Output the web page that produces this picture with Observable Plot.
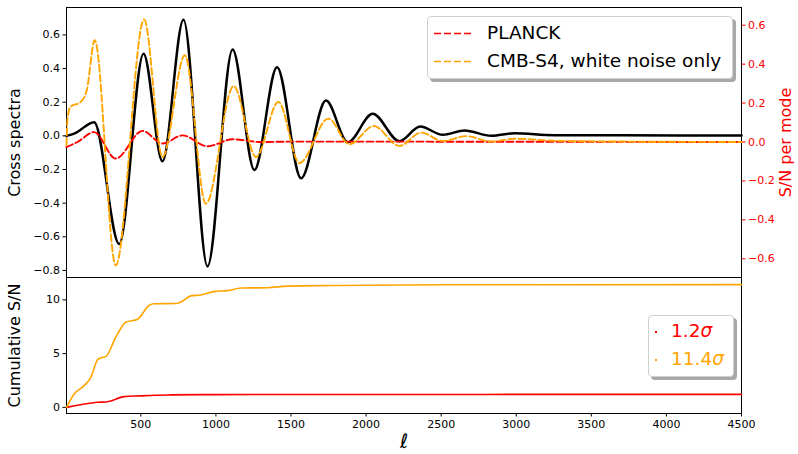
<!DOCTYPE html>
<html><head><meta charset="utf-8">
<script src="https://cdn.jsdelivr.net/npm/d3@7"></script>
<script src="https://cdn.jsdelivr.net/npm/@observablehq/plot@0.6"></script>
<style>
body{margin:0;background:#fff;font-family:"DejaVu Sans",sans-serif}
#chart{position:relative;width:798px;height:454px;background:#fff}
#chart svg{position:absolute;left:0;font-family:"DejaVu Sans",sans-serif;overflow:visible}
#chart svg g[aria-label="y-axis label"] text{font-size:16px}
#chart svg g[aria-label="x-axis label"] text{font-size:20px;font-style:italic}
.legend{position:absolute;background:#fff;border:1px solid #d0d0d0;border-radius:4px;box-shadow:3px 3px 0 #a8a8a8;box-sizing:border-box}
.row{position:absolute;white-space:nowrap}
</style></head><body><div id="chart"></div>
<script>
// ---- data ----
const ellCross = [5, 60, 189, 356, 518, 644, 784, 944, 1111, 1256, 1407, 1567, 1733, 1878, 2044, 2222, 2360, 2511, 2656, 2833, 2987, 3250, 3700, 4500];
const crossSpec = [0.0, 0.015, 0.081, -0.643, 0.488, -0.151, 0.69, -0.776, 0.514, -0.203, 0.408, -0.252, 0.21, -0.038, 0.131, -0.032, 0.055, 0.006, 0.032, 0.0, 0.015, 0.004, 0.003, 0.002];

const ellS4 = [5, 12, 30, 100, 140, 193, 333, 522, 644, 793, 933, 1118, 1267, 1416, 1556, 1749, 1889, 2051, 2222, 2367, 2511, 2667, 2833, 2987, 3300, 4500];
const snS4 = [-0.017, 0.12, 0.18, 0.206, 0.266, 0.523, -0.634, 0.63, -0.077, 0.446, -0.317, 0.288, -0.077, 0.206, -0.108, 0.12, -0.012, 0.082, -0.02, 0.048, 0.005, 0.03, 0.002, 0.017, 0.005, 0.0];

const ellPlanck = [5, 78, 189, 333, 511, 644, 778, 944, 1111, 1300, 1500, 4500];
const snPlanck = [-0.026, 0.0, 0.051, -0.085, 0.057, -0.008, 0.034, -0.022, 0.014, 0.0, 0.002, 0.0];

const ellCumS4 = [5, 56, 122, 167, 211, 233, 267, 333, 400, 478, 556, 589, 733, 767, 833, 900, 989, 1078, 1167, 1344, 1478, 1789, 2500, 4500];
const cumS4 = [0, 1.25, 2.02, 2.8, 4.41, 4.6, 4.72, 6.52, 7.91, 8.19, 9.5, 9.64, 9.66, 9.8, 10.37, 10.46, 10.77, 10.86, 11.1, 11.13, 11.28, 11.34, 11.4, 11.42];

const ellCumPlanck = [5, 211, 278, 389, 500, 589, 700, 1000, 4500];
const cumPlanck = [0, 0.47, 0.52, 1.0, 1.07, 1.13, 1.16, 1.19, 1.21];

const xTicks = [500, 1000, 1500, 2000, 2500, 3000, 3500, 4000, 4500];
const crossTicks = [-0.8, -0.6, -0.4, -0.2, 0.0, 0.2, 0.4, 0.6];
const snTicks = [-0.6, -0.4, -0.2, 0.0, 0.2, 0.4, 0.6];
const cumTicks = [0, 5, 10];
const topLegendLabels = ["PLANCK", "CMB-S4, white noise only"];
const bottomLegendLabels = ["1.2", "11.4"];
const RED = "#ff0000", ORANGE = "#ffa500";

const pts = (xs, ys) => xs.map((x, i) => ({ell: x, v: ys[i]}));
const chart = document.getElementById("chart");
const common = {width: 798, marginLeft: 66, marginRight: 57};
const xDomain = [5, 4500];
const f1 = d3.format(".1f");
const DASH = "7,3";

// top panel, left axis
const topLeft = Plot.plot({
  ...common, height: 278, marginTop: 7, marginBottom: 1,
  x: {domain: xDomain, axis: null},
  y: {domain: [-0.842, 0.763], axis: null},
  marks: [
    Plot.frame({stroke: "black"}),
    Plot.axisY({ticks: crossTicks, tickFormat: f1, tickSize: 3.5, tickPadding: 3, fontSize: 11,
      label: "Cross spectra", labelAnchor: "center", labelOffset: 58, labelArrow: "none"}),
    Plot.line(pts(ellCross, crossSpec), {x: "ell", y: "v", stroke: "black", strokeWidth: 2.5, curve: "monotone-x"})
  ]
});
topLeft.style.top = "0px";
chart.appendChild(topLeft);

// top panel, right axis (S/N per mode)
const topRight = Plot.plot({
  ...common, height: 278, marginTop: 7, marginBottom: 1,
  style: {background: "transparent"},
  x: {domain: xDomain, axis: null},
  y: {domain: [-0.696, 0.691], axis: null},
  marks: [
    Plot.axisY({anchor: "right", ticks: snTicks, tickFormat: f1, tickSize: 3.5, tickPadding: 3, fontSize: 11, color: RED,
      label: "S/N per mode", labelAnchor: "center", labelOffset: 49, labelArrow: "none"}),
    Plot.line(pts(ellPlanck, snPlanck), {x: "ell", y: "v", stroke: RED, strokeWidth: 1.9, strokeDasharray: DASH, curve: "monotone-x"}),
    Plot.line(pts(ellS4, snS4), {x: "ell", y: "v", stroke: ORANGE, strokeWidth: 1.9, strokeDasharray: DASH, curve: "monotone-x"})
  ]
});
topRight.style.top = "0px";
chart.appendChild(topRight);

// bottom panel
const bottom = Plot.plot({
  ...common, height: 177, marginTop: 0, marginBottom: 41,
  x: {domain: xDomain, axis: null},
  y: {domain: [-0.57, 12.08], axis: null},
  marks: [
    Plot.frame({stroke: "black"}),
    Plot.axisY({ticks: cumTicks, tickFormat: "d", tickSize: 3.5, tickPadding: 3, fontSize: 11,
      label: "Cumulative S/N", labelAnchor: "center", labelOffset: 58, labelArrow: "none"}),
    Plot.axisX({ticks: xTicks, tickFormat: "d", tickSize: 3.5, tickPadding: 3, fontSize: 11,
      label: "ℓ", labelAnchor: "center", labelOffset: 34, labelArrow: "none"}),
    Plot.line(pts(ellCumPlanck, cumPlanck), {x: "ell", y: "v", stroke: RED, strokeWidth: 1.6, curve: "monotone-x"}),
    Plot.line(pts(ellCumS4, cumS4), {x: "ell", y: "v", stroke: ORANGE, strokeWidth: 1.6, curve: "monotone-x"})
  ]
});
bottom.style.top = "277px";
bottom.style.background = "transparent";
chart.insertBefore(bottom, topLeft);

// top legend
const lg1 = document.createElement("div");
lg1.className = "legend";
Object.assign(lg1.style, {left: "427px", top: "16px", width: "306px", height: "63px"});
[RED, ORANGE].forEach((c, i) => {
  const r = document.createElement("div");
  r.className = "row";
  Object.assign(r.style, {left: "5px", top: (5 + i * 27.5) + "px", fontSize: "18.5px", lineHeight: "22px", color: "#000"});
  r.innerHTML = `<svg width="40" height="22" style="position:static;vertical-align:top"><line x1="1" x2="40" y1="11.5" y2="11.5" stroke="${c}" stroke-width="1.6" stroke-dasharray="${DASH}"/></svg><span style="margin-left:14px">${topLegendLabels[i]}</span>`;
  lg1.appendChild(r);
});
chart.appendChild(lg1);

// bottom legend
const lg2 = document.createElement("div");
lg2.className = "legend";
Object.assign(lg2.style, {left: "648px", top: "315px", width: "86px", height: "62px"});
[RED, ORANGE].forEach((c, i) => {
  const r = document.createElement("div");
  r.className = "row";
  Object.assign(r.style, {left: "6px", top: (4 + i * 27.5) + "px", fontSize: "18.5px", lineHeight: "22px", color: c});
  r.innerHTML = `<span style="display:inline-block;width:2px;height:2px;background:${c};vertical-align:middle;margin-right:14px"></span>${bottomLegendLabels[i]}<i>σ</i>`;
  lg2.appendChild(r);
});
chart.appendChild(lg2);
</script>
</body></html>
